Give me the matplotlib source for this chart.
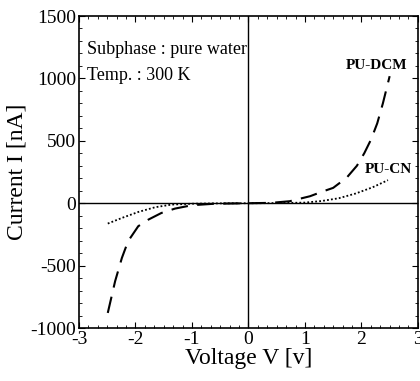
import matplotlib
matplotlib.use('Agg')
import matplotlib.pyplot as plt
from matplotlib.ticker import MultipleLocator, AutoMinorLocator

plt.rcParams['font.family'] = ['Liberation Serif', 'DejaVu Serif']
plt.rcParams['axes.unicode_minus'] = False

# PU-DCM (dashed)
dcm_v = [-2.49, -2.36, -2.24, -2.13, -1.95, -1.77, -1.54, -1.30, -1.0, -0.6, 0.0,
         0.4, 0.73, 1.09, 1.32, 1.50, 1.74, 1.92, 2.05, 2.17, 2.28, 2.38, 2.50]
dcm_i = [-879, -625, -438, -304, -184, -131, -78, -43, -16, -4, 0,
         3, 16, 56, 95, 123, 205, 300, 400, 510, 640, 800, 1018]

# PU-CN (dotted)
cn_v = [-2.49, -2.24, -1.95, -1.65, -1.36, -1.0, -0.5, 0.0, 0.5, 1.0, 1.3, 1.6, 1.9, 2.2, 2.47]
cn_i = [-163, -118, -70, -32, -11, -4, -1, 0, 1, 5, 18, 40, 78, 128, 185]

fig = plt.figure(figsize=(4.2, 3.81), dpi=100)
ax = fig.add_axes([0.188, 0.139, 0.807, 0.819])

ax.axhline(0, color='black', lw=1.0)
ax.axvline(0, color='black', lw=1.0)

ax.plot(dcm_v, dcm_i, color='black', lw=1.5, dashes=(8, 4.5))
ax.plot(cn_v, cn_i, color='black', lw=1.3, dashes=(1, 1.2))

ax.text(2.81, 1106, 'PU-DCM', fontsize=11, fontweight='bold', ha='right', va='center')
ax.text(2.9, 270, 'PU-CN', fontsize=11, fontweight='bold', ha='right', va='center')
ax.text(-2.86, 1234, 'Subphase : pure water', fontsize=13, ha='left', va='center')
ax.text(-2.86, 1026, 'Temp. : 300 K', fontsize=13, ha='left', va='center')

ax.set_xlim(-3, 3)
ax.set_ylim(-1000, 1500)
ax.xaxis.set_major_locator(MultipleLocator(1))
ax.xaxis.set_minor_locator(AutoMinorLocator(6))
ax.yaxis.set_major_locator(MultipleLocator(500))
ax.yaxis.set_minor_locator(MultipleLocator(100))
ax.tick_params(which='both', direction='in', top=True, right=True, labelsize=14, pad=2)
ax.tick_params(which='major', length=4)
ax.tick_params(which='minor', length=2.5)
for s in ax.spines.values():
    s.set_linewidth(1.2)

ax.set_xlabel('Voltage V [v]', fontsize=17, labelpad=0)
ax.set_ylabel('Current I [nA]', fontsize=17, labelpad=2)

fig.savefig('out.png', dpi=100)
